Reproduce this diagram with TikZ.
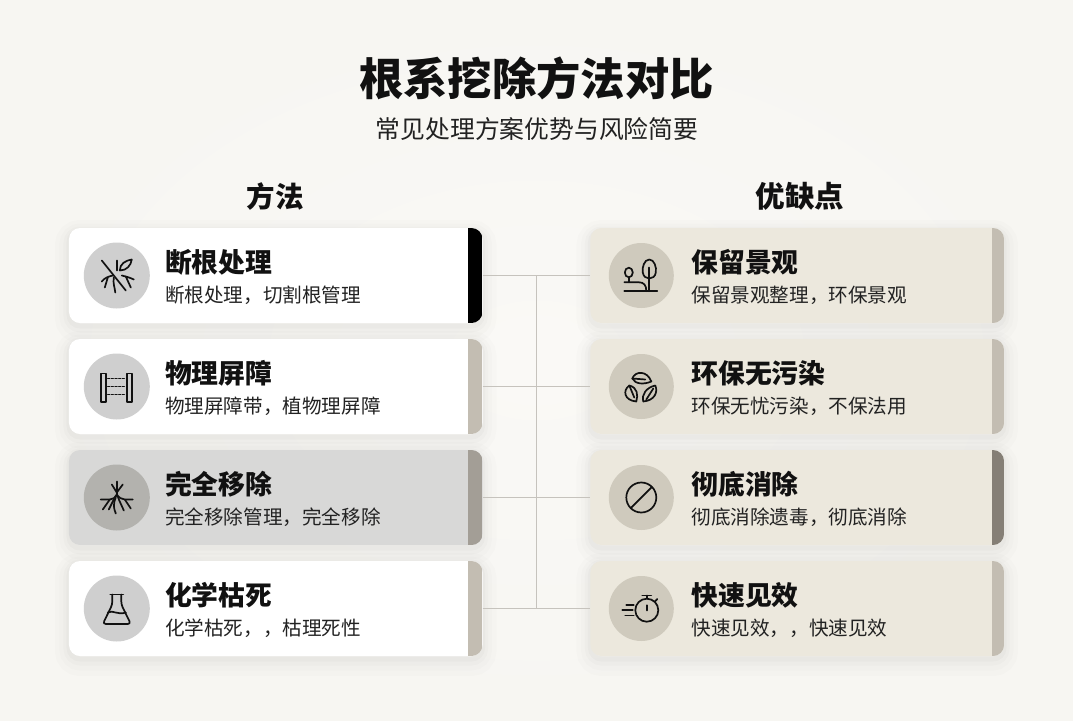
\documentclass[tikz,border=0pt]{standalone}
\usepackage{fontspec}
\setmainfont{Noto Sans CJK SC}
\usetikzlibrary{calc}

\newcommand{\wcomma}{\symbol{"FF0C}}
\newcommand{\cardinfo}[6]{
	\node (#1c) [#4] at ([xshift=#2pt]#1.west) {};
	\node (#1h) [headtext] at ([xshift=#3pt, yshift=13pt]#1.west) {#5};
	\node (#1s) [subtext] at ([xshift=#3pt, yshift=-20pt]#1.west) {#6};
}

\begin{document}
\begin{tikzpicture}[x=1pt, y=-1pt,
		softshadow/.style={
			preaction={draw=black, draw opacity=.010, line width=28pt, transform canvas={yshift=-6pt}},
			preaction={draw=black, draw opacity=.012, line width=19pt, transform canvas={yshift=-5pt}},
			preaction={draw=black, draw opacity=.015, line width=11pt, transform canvas={yshift=-4pt}},
			preaction={draw=black, draw opacity=.02, line width=5pt, transform canvas={yshift=-3pt}}},
		card/.style n args={3}{shape=rectangle, rounded corners=11pt, minimum width=413.5pt, minimum height=95pt,
			inner sep=0pt, fill=#1, softshadow,
			path picture={\fill[#2, sharp corners] ([xshift=-#3pt]path picture bounding box.north east) rectangle (path picture bounding box.south east);}},
		round/.style={shape=circle, minimum size=#1, inner sep=0pt},
		circleplain/.style={round=66pt, fill=circA},
		circledark/.style={round=66pt, fill=circB},
		circlesand/.style={round=65pt, fill=circC},
		headtext/.style={anchor=west, inner sep=0pt, font=\fontsize{26.8}{30}\selectfont\bfseries, text=inkA},
		subtext/.style={anchor=west, inner sep=0pt, font=\fontsize{19.6}{23}\selectfont, text=inkB},
		link/.style={draw=linkc, line width=1.8pt},
		icon/.style={draw=inkA, line width=1.7pt, line cap=round, line join=round}]

	\definecolor{pagec}{HTML}{F7F6F2}
	\definecolor{pagei}{HTML}{FAF9F6}
	\definecolor{inkA}{HTML}{111111}
	\definecolor{inkB}{HTML}{222222}
	\definecolor{linkc}{HTML}{C6C3BD}
	\definecolor{sand}{HTML}{ECE8DD}
	\definecolor{greyc}{HTML}{D8D8D7}
	\definecolor{circA}{HTML}{CFCFCF}
	\definecolor{circB}{HTML}{B3B2AE}
	\definecolor{circC}{HTML}{CFCABD}
	\definecolor{stripA}{HTML}{C3BDB2}
	\definecolor{stripB}{HTML}{A39E96}
	\definecolor{stripC}{HTML}{857F76}

	\shade[inner color=pagei, outer color=pagec] (0,0) rectangle (1073,720);
	\useasboundingbox (0,0) rectangle (1073,720);

	\node (title) [font=\fontsize{44.3}{50}\selectfont\bfseries, text=inkA, inner sep=0pt] at (536.5,78) {根系挖除方法对比};
	\node (subtitle) [font=\fontsize{24.8}{28}\selectfont, text=inkB, inner sep=0pt] at (537,129) {常见处理方案优势与风险简要};
	\node (lefthead) [font=\fontsize{28.5}{32}\selectfont\bfseries, text=inkA, inner sep=0pt] at (275,196.5) {方法};
	\node (righthead) [font=\fontsize{29.5}{32}\selectfont\bfseries, text=inkA, inner sep=0pt] at (800,196.5) {优缺点};

	\matrix (cards) [column sep=108pt, row sep=16pt, inner sep=0pt] at (536.5,442) {
		\node (a1) [card={white}{black}{15}] {}; &
		\node (b1) [card={sand}{stripA}{12}] {}; \\
		\node (a2) [card={white}{stripA}{15}] {}; &
		\node (b2) [card={sand}{stripA}{12}] {}; \\
		\node (a3) [card={greyc}{stripB}{15}] {}; &
		\node (b3) [card={sand}{stripC}{12}] {}; \\
		\node (a4) [card={white}{stripA}{15}] {}; &
		\node (b4) [card={sand}{stripA}{12}] {}; \\
	};

	\coordinate (j1) at ($(a1.east)!.5!(b1.west)$);
	\coordinate (j4) at ($(a4.east)!.5!(b4.west)$);
	\draw[link] (a1.east) -- (b1.west);
	\draw[link] (a2.east) -- (b2.west);
	\draw[link] (a3.east) -- (b3.west);
	\draw[link] (a4.east) -- (b4.west);
	\draw[link] (j1) -- (j4);

	\cardinfo{a1}{48}{96}{circleplain}{断根处理}{断根处理\wcomma 切割根管理}
	\cardinfo{a2}{48}{96}{circleplain}{物理屏障}{物理屏障带\wcomma 植物理屏障}
	\cardinfo{a3}{48}{96}{circledark}{完全移除}{完全移除管理\wcomma 完全移除}
	\cardinfo{a4}{48}{96}{circleplain}{化学枯死}{化学枯死\wcomma\wcomma 枯理死性}
	\cardinfo{b1}{51}{101}{circlesand}{保留景观}{保留景观整理\wcomma 环保景观}
	\cardinfo{b2}{51}{101}{circlesand}{环保无污染}{环保无忧污染\wcomma 不保法用}
	\cardinfo{b3}{51}{101}{circlesand}{彻底消除}{彻底消除遗毒\wcomma 彻底消除}
	\cardinfo{b4}{51}{101}{circlesand}{快速见效}{快速见效\wcomma\wcomma 快速见效}

	\begin{scope}[shift={(a1c.center)}, icon]
		\draw (-15,-15) -- (9,15);
		\draw (0,-15) -- (0,-5);
		\draw (3,-5) .. controls (3,-12) and (9,-15) .. (15,-16) .. controls (14,-10) and (10,-5) .. (3,-5);
		\draw (-4,0) .. controls (-8,1) and (-12,2) .. (-15,6);
		\draw (-9,2) -- (-12,12);
		\draw (-3,2) .. controls (-4,8) and (-2,12) .. (-1.5,17);
		\draw (5,0) .. controls (9,1) and (13,2) .. (17,4);
		\draw (9,1) -- (14,12);
	\end{scope}

	\begin{scope}[shift={(a2c.center)}, icon]
		\draw (-15.5,-13) rectangle (-11,15.5);
		\draw (10.5,-13) rectangle (15,15.5);
		\draw[dotted] (-9,-8) -- (9,-8);
		\draw[dotted] (-9,0) -- (9,0);
		\draw[dotted] (-9,8) -- (9,8);
	\end{scope}

	\begin{scope}[shift={(a3c.center)}, icon]
		\draw (0,-16) -- (0,-1);
		\draw (-5,-13) -- (0,-5) -- (6,-13);
		\draw (-16,2) -- (-7,2) .. controls (-4,2) and (-1,0) .. (0,-3) .. controls (2,0) and (5,2) .. (8,2) -- (16,2);
		\draw (-7,2) -- (-14,12);
		\draw (-3,2) -- (-8,12);
		\draw (-1,0) .. controls (-4,7) and (-3,11) .. (-1,16);
		\draw (1,-1) .. controls (3,5) and (5,8) .. (7,13);
		\draw (8,2) -- (14,11);
	\end{scope}

	\begin{scope}[shift={(a4c.center)}, icon]
		\draw (-6.5,-14) -- (6.5,-14);
		\draw[rounded corners=3pt] (-4.5,-14) -- (-4.5,-4) -- (-14,15.5) -- (14,15.5) -- (4.5,-4) -- (4.5,-14);
		\draw (-9,4) .. controls (-4,1) and (1,7) .. (9,4);
	\end{scope}

	\begin{scope}[shift={(b1c.center)}, icon]
		\draw (-17,15.7) -- (16,15.7);
		\draw (8,-8) -- (8,15.7);
		\draw (8,-16) .. controls (3,-16) and (0.5,-8) .. (1.5,-3) .. controls (2,1) and (5,3) .. (8,3) .. controls (11,3) and (14,1) .. (14.5,-3) .. controls (15.5,-8) and (13,-16) .. (8,-16);
		\draw (-12.5,-3) ellipse (4 and 4.8);
		\draw (-12.5,1.8) -- (-12.5,6.7);
		\draw (-17,6.7) -- (-3,6.7) .. controls (3,6.7) and (5,10) .. (5,15.7);
	\end{scope}

	\begin{scope}[shift={(b2c.center)}, icon]
		\draw (-9,-8) .. controls (-6,-16) and (6,-16) .. (10,-5) .. controls (3,-2) and (-6,-2) .. (-9,-8);
		\draw (-9,-8) -- (4,-7);
		\draw (-12,-1) .. controls (-19,4) and (-17,14) .. (-5,15) .. controls (-3,8) and (-4,1) .. (-12,-1);
		\draw (-12,-1) -- (-7,11);
		\draw (14,-1) .. controls (17,6) and (13,14) .. (2,15) .. controls (0,8) and (5,1) .. (14,-1);
		\draw (12,2) -- (5,13);
	\end{scope}

	\begin{scope}[shift={(b3c.center)}, icon]
		\draw (0,0) circle (15);
		\draw (-10.5,10.5) -- (10.5,-10.5);
	\end{scope}

	\begin{scope}[shift={(b4c.center)}, icon]
		\draw (5.5,1.7) circle (11.5);
		\draw (1,-13) -- (10,-13);
		\draw (5.5,-13) -- (5.5,-10);
		\draw (5.5,-3.3) -- (5.5,2);
		\draw (13.5,-7) -- (16,-9.5);
		\draw (-15,-3.3) -- (-7.5,-3.3);
		\draw (-19,1.7) -- (-8.5,1.7);
		\draw (-16,7) -- (-7.5,7);
	\end{scope}
\end{tikzpicture}
\end{document}
